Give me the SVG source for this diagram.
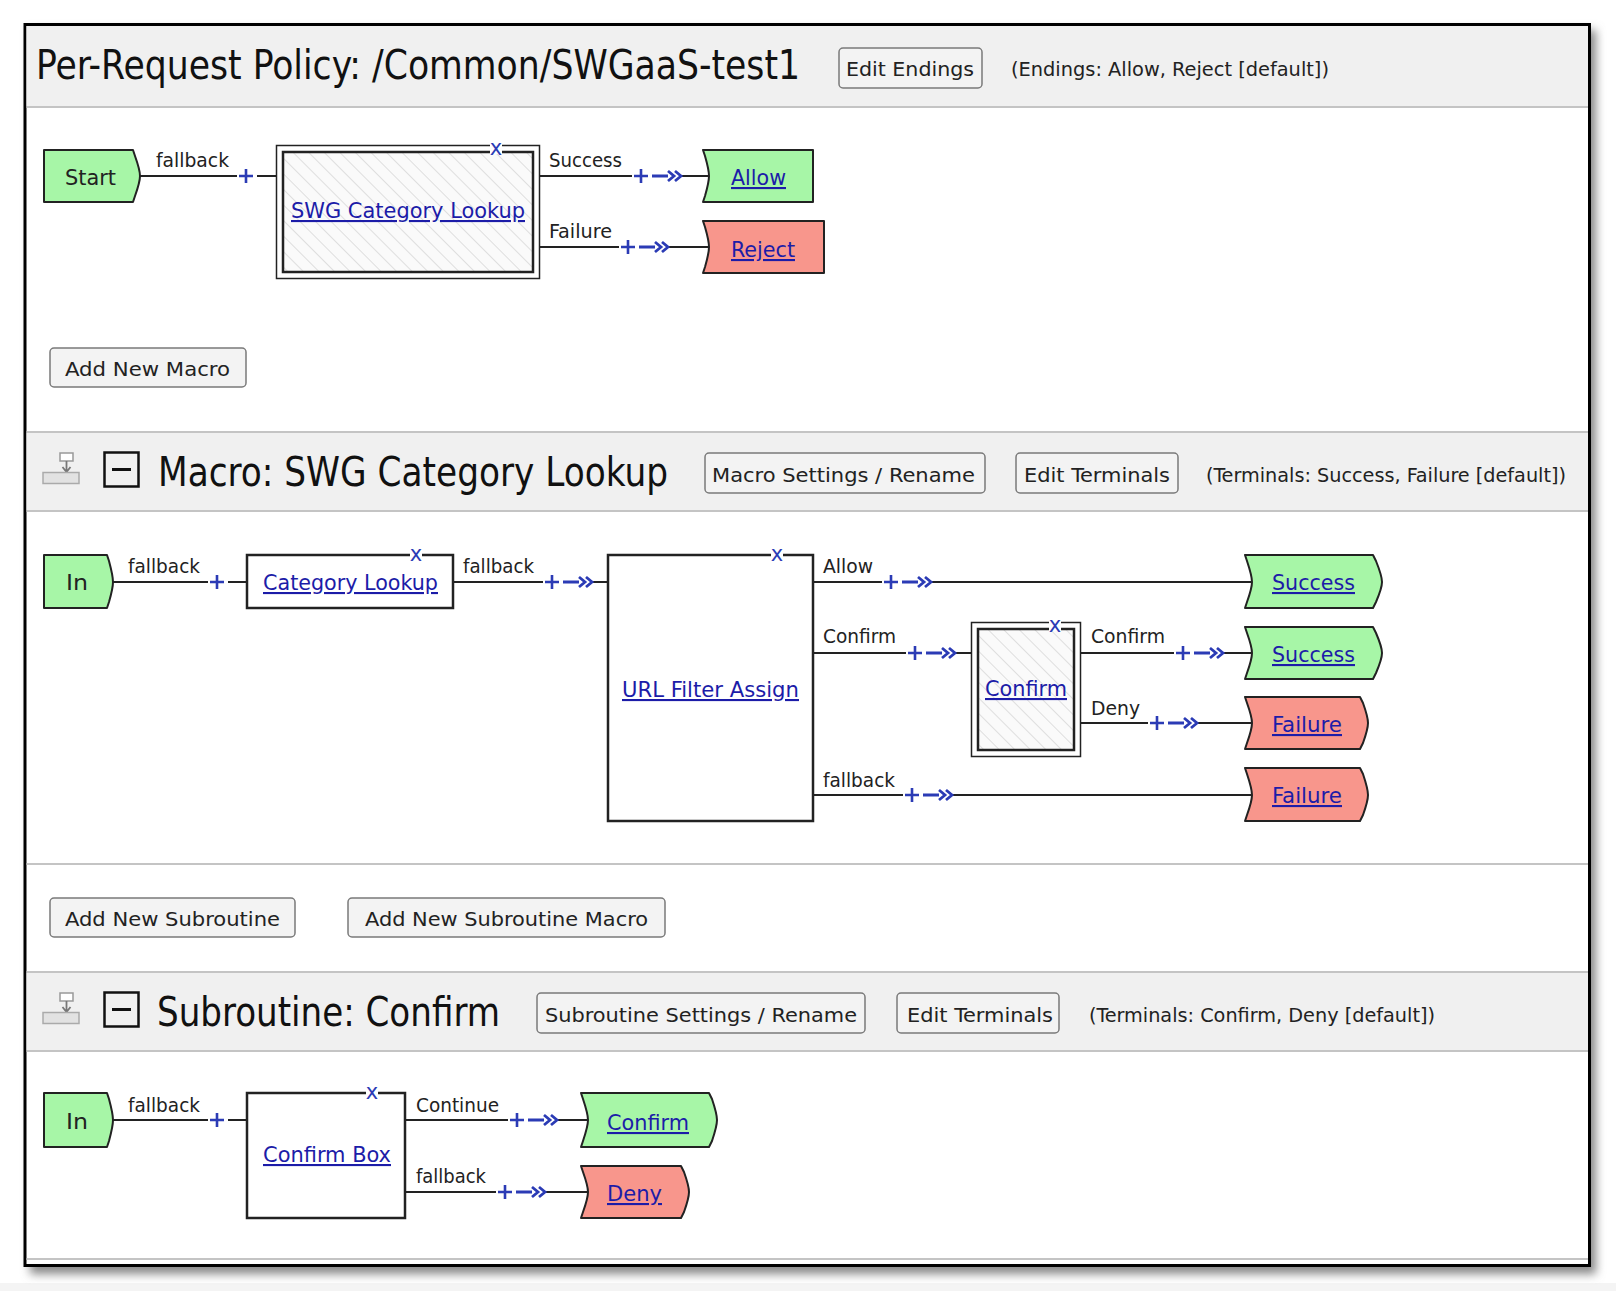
<svg xmlns="http://www.w3.org/2000/svg" xmlns:xlink="http://www.w3.org/1999/xlink" width="1616" height="1291" viewBox="0 0 1616 1291">
<style>
text{font-family:"DejaVu Sans Condensed","DejaVu Sans",sans-serif;fill:#222}
.t{font-size:41px;fill:#111}
.s{font-size:20px}
.n{font-size:21px}
.k{fill:#1c1ca8;text-decoration:underline}
.ln{stroke:#222;stroke-width:2;fill:none}
.bx{fill:#fff;stroke:#222;stroke-width:2.5}
.bo{fill:#fff;stroke:#222;stroke-width:1.5}
.bi{fill:url(#hatch);stroke:#222;stroke-width:2.5}
.tg{fill:#a7f6a7;stroke:#222;stroke-width:2;stroke-linejoin:round}
.tr{fill:#f8968c;stroke:#222;stroke-width:2;stroke-linejoin:round}
.btn{fill:#f3f3f3;stroke:#7a7a7a;stroke-width:1.5}
.hd{fill:#f0f0f0}
.sep{stroke:#c4c4c4;stroke-width:2}
.xm{font-size:21px;fill:#2b3bb5;text-anchor:middle;font-family:"DejaVu Sans",sans-serif}
</style>
<defs>
<pattern id="hatch" width="11" height="11" patternUnits="userSpaceOnUse" patternTransform="rotate(-45)">
<rect width="11" height="11" fill="#fafafa"/>
<line x1="0" y1="0" x2="0" y2="11" stroke="#cfcfcf" stroke-width="1.3"/>
</pattern>
<path id="pl" d="M-7,0H7M0,-7V7" stroke="#2b3bb5" stroke-width="2.6" fill="none"/>
<path id="ar" d="M11,0H27M27,-5L33,0L27,5M34,-5L40,0L34,5" stroke="#2b3bb5" stroke-width="2.8" fill="none"/>
<filter id="sh" x="-5%" y="-5%" width="110%" height="110%">
<feGaussianBlur stdDeviation="5"/>
</filter>
</defs>

<rect x="0" y="1283" width="1616" height="8" fill="#f4f4f4"/>
<rect x="30" y="30" width="1566" height="1244" fill="#888" filter="url(#sh)"/>
<rect x="25" y="24.5" width="1564.5" height="1241" fill="#fff" stroke="#000" stroke-width="3"/>

<!-- section backgrounds -->
<g id="bands">
<rect class="hd" x="26.5" y="26" width="1561.5" height="80"/>
<line class="sep" x1="26.5" y1="107" x2="1588" y2="107"/>
<rect class="hd" x="26.5" y="433" width="1561.5" height="77"/>
<line class="sep" x1="26.5" y1="432" x2="1588" y2="432"/>
<line class="sep" x1="26.5" y1="511" x2="1588" y2="511"/>
<line class="sep" x1="26.5" y1="864" x2="1588" y2="864"/>
<rect class="hd" x="26.5" y="973" width="1561.5" height="77"/>
<line class="sep" x1="26.5" y1="972" x2="1588" y2="972"/>
<line class="sep" x1="26.5" y1="1051" x2="1588" y2="1051"/>
<line class="sep" x1="26.5" y1="1259" x2="1588" y2="1259"/>
</g>

<!-- Header 1 -->
<g id="header-policy">
<text class="t" x="36" y="79" textLength="764" lengthAdjust="spacingAndGlyphs">Per-Request Policy: /Common/SWGaaS-test1</text>
<rect class="btn" x="839" y="48" width="143" height="40" rx="4"/>
<text class="s" x="846" y="76" textLength="128" lengthAdjust="spacingAndGlyphs">Edit Endings</text>
<text class="s" x="1011" y="76" textLength="318" lengthAdjust="spacingAndGlyphs">(Endings: Allow, Reject [default])</text>
</g>

<!-- Header 2 -->
<g id="header-macro">
<rect x="60" y="453" width="13" height="8" fill="#fff" stroke="#999" stroke-width="1.5"/>
<path d="M66.5,461V471M62.5,467L66.5,472L70.5,467" stroke="#777" stroke-width="1.8" fill="none"/>
<rect x="43" y="472.5" width="36" height="11" fill="#e2e2e2" stroke="#aaa" stroke-width="1.5"/>
<rect x="104.5" y="452.5" width="34" height="34" fill="none" stroke="#111" stroke-width="2.5"/>
<line x1="112" y1="469.5" x2="131" y2="469.5" stroke="#111" stroke-width="3"/>
<text class="t" x="158" y="486" textLength="510" lengthAdjust="spacingAndGlyphs">Macro: SWG Category Lookup</text>
<rect class="btn" x="705" y="453" width="280" height="40" rx="4"/>
<text class="s" x="712" y="482" textLength="263" lengthAdjust="spacingAndGlyphs">Macro Settings / Rename</text>
<rect class="btn" x="1016" y="453" width="162" height="40" rx="4"/>
<text class="s" x="1024" y="482" textLength="146" lengthAdjust="spacingAndGlyphs">Edit Terminals</text>
<text class="s" x="1206" y="482" textLength="360" lengthAdjust="spacingAndGlyphs">(Terminals: Success, Failure [default])</text>
</g>

<!-- Header 3 -->
<g id="header-subroutine">
<rect x="60" y="993" width="13" height="8" fill="#fff" stroke="#999" stroke-width="1.5"/>
<path d="M66.5,1001V1011M62.5,1007L66.5,1012L70.5,1007" stroke="#777" stroke-width="1.8" fill="none"/>
<rect x="43" y="1012.5" width="36" height="11" fill="#e2e2e2" stroke="#aaa" stroke-width="1.5"/>
<rect x="104.5" y="992.5" width="34" height="34" fill="none" stroke="#111" stroke-width="2.5"/>
<line x1="112" y1="1009.5" x2="131" y2="1009.5" stroke="#111" stroke-width="3"/>
<text class="t" x="157" y="1026" textLength="343" lengthAdjust="spacingAndGlyphs">Subroutine: Confirm</text>
<rect class="btn" x="537" y="993" width="328" height="40" rx="4"/>
<text class="s" x="545" y="1022" textLength="312" lengthAdjust="spacingAndGlyphs">Subroutine Settings / Rename</text>
<rect class="btn" x="897" y="993" width="162" height="40" rx="4"/>
<text class="s" x="907" y="1022" textLength="146" lengthAdjust="spacingAndGlyphs">Edit Terminals</text>
<text class="s" x="1089" y="1022" textLength="346" lengthAdjust="spacingAndGlyphs">(Terminals: Confirm, Deny [default])</text>
</g>

<!-- Buttons -->
<g id="btn-add-macro">
<rect class="btn" x="50" y="348" width="196" height="39" rx="4"/>
<text class="s" x="65" y="376" textLength="165" lengthAdjust="spacingAndGlyphs">Add New Macro</text>
</g>
<g id="btn-add-sub">
<rect class="btn" x="50" y="898" width="245" height="39" rx="4"/>
<text class="s" x="65" y="926" textLength="215" lengthAdjust="spacingAndGlyphs">Add New Subroutine</text>
</g>
<g id="btn-add-sub-macro">
<rect class="btn" x="348" y="898" width="317" height="39" rx="4"/>
<text class="s" x="365" y="926" textLength="283" lengthAdjust="spacingAndGlyphs">Add New Subroutine Macro</text>
</g>

<!-- Connectors -->
<g id="connectors">
<path class="ln" d="M140,176H237M257,176H276"/>
<use href="#pl" x="246" y="176"/>
<text class="s" x="156" y="167" textLength="73" lengthAdjust="spacingAndGlyphs">fallback</text>

<path class="ln" d="M540,176H632M681,176H709"/>
<use href="#pl" x="641" y="176"/><use href="#ar" x="641" y="176"/>
<text class="s" x="549" y="167" textLength="73" lengthAdjust="spacingAndGlyphs">Success</text>

<path class="ln" d="M540,247H619M668,247H709"/>
<use href="#pl" x="628" y="247"/><use href="#ar" x="628" y="247"/>
<text class="s" x="549" y="238" textLength="63" lengthAdjust="spacingAndGlyphs">Failure</text>

<path class="ln" d="M112,582H208M228,582H247"/>
<use href="#pl" x="217" y="582"/>
<text class="s" x="128" y="573" textLength="72" lengthAdjust="spacingAndGlyphs">fallback</text>

<path class="ln" d="M453,582H543M592,582H608"/>
<use href="#pl" x="552" y="582"/><use href="#ar" x="552" y="582"/>
<text class="s" x="463" y="573" textLength="71" lengthAdjust="spacingAndGlyphs">fallback</text>

<path class="ln" d="M813,582H882M931,582H1252"/>
<use href="#pl" x="891" y="582"/><use href="#ar" x="891" y="582"/>
<text class="s" x="823" y="573" textLength="50" lengthAdjust="spacingAndGlyphs">Allow</text>

<path class="ln" d="M813,653H906M955,653H971"/>
<use href="#pl" x="915" y="653"/><use href="#ar" x="915" y="653"/>
<text class="s" x="823" y="643" textLength="73" lengthAdjust="spacingAndGlyphs">Confirm</text>

<path class="ln" d="M1081,653H1174M1223,653H1252"/>
<use href="#pl" x="1183" y="653"/><use href="#ar" x="1183" y="653"/>
<text class="s" x="1091" y="643" textLength="74" lengthAdjust="spacingAndGlyphs">Confirm</text>

<path class="ln" d="M1081,723H1148M1197,723H1252"/>
<use href="#pl" x="1157" y="723"/><use href="#ar" x="1157" y="723"/>
<text class="s" x="1091" y="715" textLength="49" lengthAdjust="spacingAndGlyphs">Deny</text>

<path class="ln" d="M813,795H903M952,795H1252"/>
<use href="#pl" x="912" y="795"/><use href="#ar" x="912" y="795"/>
<text class="s" x="823" y="787" textLength="72" lengthAdjust="spacingAndGlyphs">fallback</text>

<path class="ln" d="M112,1120H208M228,1120H247"/>
<use href="#pl" x="217" y="1120"/>
<text class="s" x="128" y="1112" textLength="72" lengthAdjust="spacingAndGlyphs">fallback</text>

<path class="ln" d="M405,1120H508M557,1120H588"/>
<use href="#pl" x="517" y="1120"/><use href="#ar" x="517" y="1120"/>
<text class="s" x="416" y="1112" textLength="83" lengthAdjust="spacingAndGlyphs">Continue</text>

<path class="ln" d="M405,1192H496M545,1192H588"/>
<use href="#pl" x="505" y="1192"/><use href="#ar" x="505" y="1192"/>
<text class="s" x="416" y="1183" textLength="70" lengthAdjust="spacingAndGlyphs">fallback</text>
</g>

<!-- Section 1 nodes -->
<g id="node-start">
<path class="tg" d="M44,150H133L135,156Q140,170 140,176Q140,182 135,196L133,202H44Z"/>
<text class="n" x="65" y="185" textLength="51" lengthAdjust="spacingAndGlyphs">Start</text>
</g>
<g id="node-swg-category-lookup">
<rect class="bo" x="276.5" y="145.5" width="263" height="133"/>
<rect class="bi" x="283" y="152" width="250" height="120"/>
<rect x="490" y="142" width="12" height="12" fill="#fff"/>
<text class="xm" x="496" y="155">x</text>
<text class="n k" x="291" y="218" textLength="234" lengthAdjust="spacingAndGlyphs">SWG Category Lookup</text>
</g>
<g id="node-allow">
<path class="tg" d="M703,150H813V202H703L705,196Q709,182 709,176Q709,170 705,156Z"/>
<text class="n k" x="731" y="185" textLength="55" lengthAdjust="spacingAndGlyphs">Allow</text>
</g>
<g id="node-reject">
<path class="tr" d="M703,221H824V273H703L705,267Q709,253 709,247Q709,241 705,227Z"/>
<text class="n k" x="731" y="257" textLength="64" lengthAdjust="spacingAndGlyphs">Reject</text>
</g>

<!-- Section 2 nodes -->
<g id="node-macro-in">
<path class="tg" d="M44,555H107L109,561Q113,576 113,582Q113,588 109,602L107,608H44Z"/>
<text class="n" x="66" y="590" textLength="22" lengthAdjust="spacingAndGlyphs">In</text>
</g>
<g id="node-category-lookup">
<rect class="bx" x="247" y="555" width="206" height="53"/>
<rect x="410" y="549" width="12" height="11" fill="#fff"/>
<text class="xm" x="416" y="561">x</text>
<text class="n k" x="263" y="590" textLength="175" lengthAdjust="spacingAndGlyphs">Category Lookup</text>
</g>
<g id="node-url-filter-assign">
<rect class="bx" x="608" y="555" width="205" height="266"/>
<rect x="771" y="549" width="12" height="11" fill="#fff"/>
<text class="xm" x="777" y="561">x</text>
<text class="n k" x="622" y="697" textLength="177" lengthAdjust="spacingAndGlyphs">URL Filter Assign</text>
</g>
<g id="node-confirm-sub">
<rect class="bo" x="971.5" y="622.5" width="109" height="134"/>
<rect class="bi" x="978" y="629" width="96" height="121"/>
<rect x="1049" y="619" width="12" height="12" fill="#fff"/>
<text class="xm" x="1055" y="632">x</text>
<text class="n k" x="985" y="696" textLength="82" lengthAdjust="spacingAndGlyphs">Confirm</text>
</g>
<g id="node-success-1">
<path class="tg" d="M1245,555H1373L1376,561Q1382,576 1382,582Q1382,588 1376,602L1373,608H1245L1247,602Q1252,588 1252,582Q1252,576 1247,561Z"/>
<text class="n k" x="1272" y="590" textLength="83" lengthAdjust="spacingAndGlyphs">Success</text>
</g>
<g id="node-success-2">
<path class="tg" d="M1245,627H1373L1376,633Q1382,647 1382,653Q1382,659 1376,673L1373,679H1245L1247,673Q1252,659 1252,653Q1252,647 1247,633Z"/>
<text class="n k" x="1272" y="662" textLength="83" lengthAdjust="spacingAndGlyphs">Success</text>
</g>
<g id="node-failure-1">
<path class="tr" d="M1245,697H1360L1363,703Q1368,717 1368,723Q1368,729 1363,743L1360,749H1245L1247,743Q1252,729 1252,723Q1252,717 1247,703Z"/>
<text class="n k" x="1272" y="732" textLength="70" lengthAdjust="spacingAndGlyphs">Failure</text>
</g>
<g id="node-failure-2">
<path class="tr" d="M1245,768H1360L1363,774Q1368,789 1368,795Q1368,801 1363,815L1360,821H1245L1247,815Q1252,801 1252,795Q1252,789 1247,774Z"/>
<text class="n k" x="1272" y="803" textLength="70" lengthAdjust="spacingAndGlyphs">Failure</text>
</g>

<!-- Section 3 nodes -->
<g id="node-sub-in">
<path class="tg" d="M44,1093H107L109,1099Q113,1114 113,1120Q113,1126 109,1141L107,1147H44Z"/>
<text class="n" x="66" y="1129" textLength="22" lengthAdjust="spacingAndGlyphs">In</text>
</g>
<g id="node-confirm-box">
<rect class="bx" x="247" y="1093" width="158" height="125"/>
<rect x="366" y="1087" width="12" height="11" fill="#fff"/>
<text class="xm" x="372" y="1099">x</text>
<text class="n k" x="263" y="1162" textLength="128" lengthAdjust="spacingAndGlyphs">Confirm Box</text>
</g>
<g id="node-term-confirm">
<path class="tg" d="M581,1093H709L712,1099Q717,1114 717,1120Q717,1126 712,1141L709,1147H581L583,1141Q588,1126 588,1120Q588,1114 583,1099Z"/>
<text class="n k" x="607" y="1130" textLength="82" lengthAdjust="spacingAndGlyphs">Confirm</text>
</g>
<g id="node-term-deny">
<path class="tr" d="M581,1166H681L684,1172Q689,1186 689,1192Q689,1198 684,1212L681,1218H581L583,1212Q588,1198 588,1192Q588,1186 583,1172Z"/>
<text class="n k" x="607" y="1201" textLength="55" lengthAdjust="spacingAndGlyphs">Deny</text>
</g>
</svg>
